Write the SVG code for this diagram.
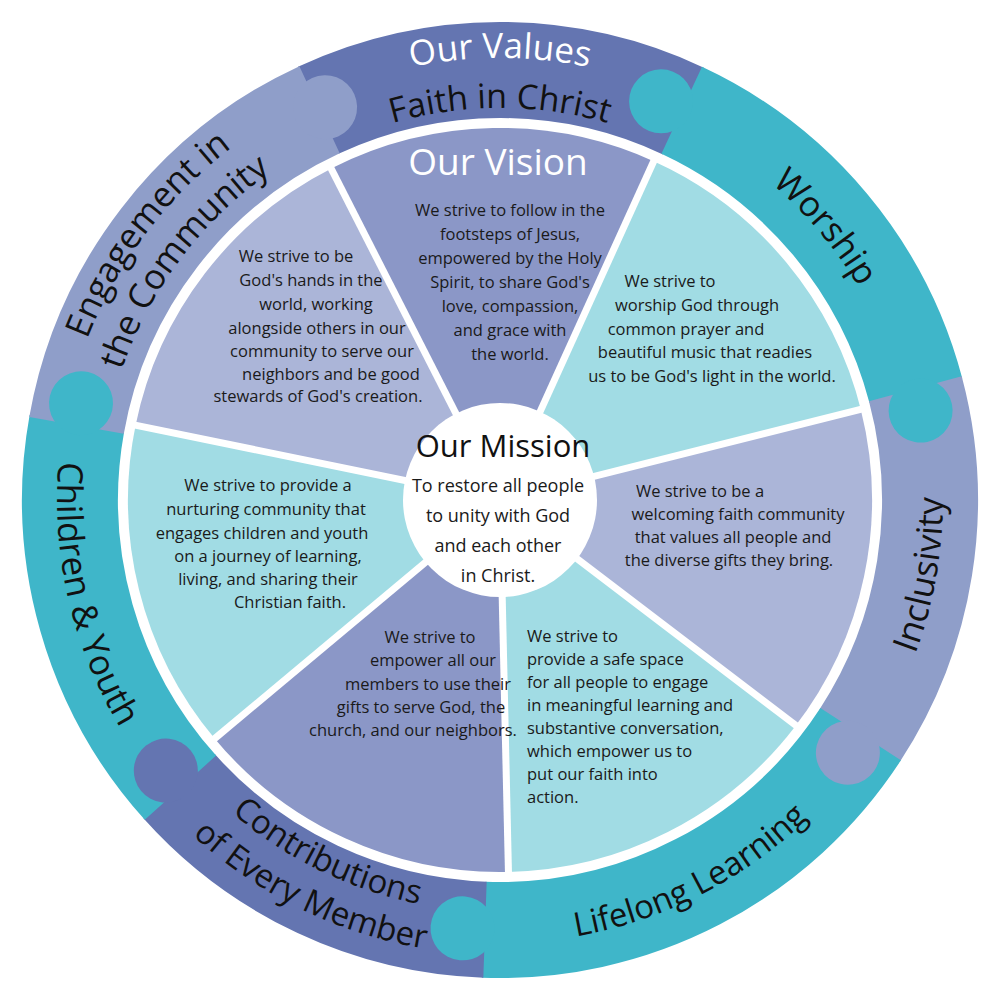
<svg xmlns="http://www.w3.org/2000/svg" xmlns:xlink="http://www.w3.org/1999/xlink" width="1000" height="1000" viewBox="0 0 1000 1000">
<style>
.ring{fill:none;stroke-width:96}
.wedge{fill:none;stroke-width:372}
.dark{stroke:#6475b1}.teal{stroke:#3fb6c9}.lp{stroke:#8f9ec9}
.k-dark{fill:#6475b1}.k-teal{fill:#3fb6c9}.k-lp{fill:#8f9ec9}
.w-med{stroke:#8b97c7}.w-teal{stroke:#a1dce4}.w-lp{stroke:#abb5d8}
.rt{font-family:"Open Sans","Noto Sans",sans-serif;font-size:35px;fill:#111}
.body{font-family:"Open Sans","Noto Sans",sans-serif;font-size:16.5px;fill:#1a1a1a;text-anchor:middle}
.sep{stroke:#fff;stroke-width:7}
</style>
<defs>
<path id="cw442" d="M117.2,279 A442 442 0 0 1 882.8,279"/>
<path id="cw392" d="M160.5,304 A392 392 0 0 1 839.5,304"/>
<path id="cw417" d="M138.9,291.5 A417 417 0 0 1 861.1,291.5"/>
<path id="cw443" d="M116.4,278.5 A443 443 0 0 1 883.6,278.5"/>
<path id="cw400" d="M153.6,300 A400 400 0 0 1 846.4,300"/>
<path id="ccw443" d="M116.4,721.5 A443 443 0 0 0 883.6,721.5"/>
<path id="ccw412" d="M143.2,706 A412 412 0 0 0 856.8,706"/>
<path id="ccw455" d="M106,727.5 A455 455 0 0 0 894,727.5"/>
</defs>
<rect width="1000" height="1000" fill="#fff"/>
<g id="ring">
<circle class="ring dark" cx="500" cy="500" r="430" stroke-dasharray="377 3000" transform="rotate(-115 500 500)"/>
<circle class="ring teal" cx="500" cy="500" r="430" stroke-dasharray="377 3000" transform="rotate(-65 500 500)"/>
<circle class="ring lp" cx="500" cy="500" r="430" stroke-dasharray="362 3000" transform="rotate(-15 500 500)"/>
<circle class="ring teal" cx="500" cy="500" r="430" stroke-dasharray="444 3000" transform="rotate(33 500 500)"/>
<circle class="ring dark" cx="500" cy="500" r="430" stroke-dasharray="347 3000" transform="rotate(92 500 500)"/>
<circle class="ring teal" cx="500" cy="500" r="430" stroke-dasharray="392 3000" transform="rotate(138 500 500)"/>
<circle class="ring lp" cx="500" cy="500" r="430" stroke-dasharray="414 3000" transform="rotate(190 500 500)"/>
<circle class="k-lp" cx="930" cy="500" r="32" transform="rotate(-114 500 500)"/>
<circle class="k-teal" cx="930" cy="500" r="32" transform="rotate(-68 500 500)"/>
<circle class="k-teal" cx="930" cy="500" r="32" transform="rotate(-12 500 500)"/>
<circle class="k-lp" cx="930" cy="500" r="32" transform="rotate(36 500 500)"/>
<circle class="k-teal" cx="930" cy="500" r="32" transform="rotate(95 500 500)"/>
<circle class="k-dark" cx="930" cy="500" r="32" transform="rotate(141 500 500)"/>
<circle class="k-teal" cx="930" cy="500" r="32" transform="rotate(193 500 500)"/>
</g>
<g id="ring-labels">
<text class="rt" style="fill:#fff"><textPath xlink:href="#cw442" href="#cw442" startOffset="50%" text-anchor="middle">Our Values</textPath></text>
<text class="rt" style="font-size:34px"><textPath xlink:href="#cw392" href="#cw392" startOffset="50%" text-anchor="middle">Faith in Christ</textPath></text>
<text class="rt" transform="rotate(50 500 500)"><textPath xlink:href="#cw417" href="#cw417" startOffset="50%" text-anchor="middle">Worship</textPath></text>
<text class="rt" transform="rotate(-53 500 500)"><textPath xlink:href="#cw443" href="#cw443" startOffset="50%" text-anchor="middle">Engagement in</textPath></text>
<text class="rt" transform="rotate(-53 500 500)"><textPath xlink:href="#cw400" href="#cw400" startOffset="50%" text-anchor="middle">the Community</textPath></text>
<text class="rt" transform="rotate(-80 500 500)"><textPath xlink:href="#ccw443" href="#ccw443" startOffset="50%" text-anchor="middle">Inclusivity</textPath></text>
<text class="rt" style="font-size:33px" transform="rotate(-27 500 500)"><textPath xlink:href="#ccw443" href="#ccw443" startOffset="50%" text-anchor="middle">Lifelong Learning</textPath></text>
<text class="rt" style="font-size:33px" transform="rotate(26 500 500)"><textPath xlink:href="#ccw412" href="#ccw412" startOffset="50%" text-anchor="middle">Contributions</textPath></text>
<text class="rt" style="font-size:33px" transform="rotate(26 500 500)"><textPath xlink:href="#ccw455" href="#ccw455" startOffset="50%" text-anchor="middle">of Every Member</textPath></text>
<text class="rt" transform="rotate(77 500 500)"><textPath xlink:href="#ccw443" href="#ccw443" startOffset="50%" text-anchor="middle">Children &amp; Youth</textPath></text>
</g>
<g id="wedges">
<circle class="wedge w-med" cx="500" cy="500" r="186" stroke-dasharray="168 2000" transform="rotate(-117 500 500)"/>
<circle class="wedge w-teal" cx="500" cy="500" r="186" stroke-dasharray="168 2000" transform="rotate(-65.6 500 500)"/>
<circle class="wedge w-lp" cx="500" cy="500" r="186" stroke-dasharray="168 2000" transform="rotate(-14.1 500 500)"/>
<circle class="wedge w-teal" cx="500" cy="500" r="186" stroke-dasharray="168 2000" transform="rotate(37.3 500 500)"/>
<circle class="wedge w-med" cx="500" cy="500" r="186" stroke-dasharray="168 2000" transform="rotate(88.7 500 500)"/>
<circle class="wedge w-teal" cx="500" cy="500" r="186" stroke-dasharray="168 2000" transform="rotate(140.1 500 500)"/>
<circle class="wedge w-lp" cx="500" cy="500" r="186" stroke-dasharray="168 2000" transform="rotate(191.6 500 500)"/>
</g>
<g id="connectors">
<line class="sep" x1="500" y1="500" x2="880" y2="500" transform="rotate(-117 500 500)"/>
<line class="sep" x1="500" y1="500" x2="880" y2="500" transform="rotate(-65.6 500 500)"/>
<line class="sep" x1="500" y1="500" x2="880" y2="500" transform="rotate(-14.1 500 500)"/>
<line class="sep" x1="500" y1="500" x2="880" y2="500" transform="rotate(37.3 500 500)"/>
<line class="sep" x1="500" y1="500" x2="880" y2="500" transform="rotate(88.7 500 500)"/>
<line class="sep" x1="500" y1="500" x2="880" y2="500" transform="rotate(140.1 500 500)"/>
<line class="sep" x1="500" y1="500" x2="880" y2="500" transform="rotate(191.6 500 500)"/>
</g>
<g id="vision">
<text x="498" y="175" style="font-family:'Open Sans','Noto Sans',sans-serif;font-size:37px;fill:#fff;text-anchor:middle">Our Vision</text>
<text class="body" x="510" y="216">We strive to follow in the</text>
<text class="body" x="510" y="240">footsteps of Jesus,</text>
<text class="body" x="510" y="264">empowered by the Holy</text>
<text class="body" x="510" y="288">Spirit, to share God's</text>
<text class="body" x="510" y="312">love, compassion,</text>
<text class="body" x="510" y="336">and grace with</text>
<text class="body" x="510" y="360">the world.</text>
</g>
<g id="worship">
<text class="body" x="670" y="287">We strive to</text>
<text class="body" x="697" y="311">worship God through</text>
<text class="body" x="686" y="335">common prayer and</text>
<text class="body" x="705" y="358">beautiful music that readies</text>
<text class="body" x="712" y="382">us to be God's light in the world.</text>
</g>
<g id="inclusivity">
<text class="body" x="700" y="497">We strive to be a</text>
<text class="body" x="738" y="520">welcoming faith community</text>
<text class="body" x="733" y="543">that values all people and</text>
<text class="body" x="729" y="566">the diverse gifts they bring.</text>
</g>
<g id="lifelong">
<text class="body" style="text-anchor:start" x="527" y="642">We strive to</text>
<text class="body" style="text-anchor:start" x="527" y="665">provide a safe space</text>
<text class="body" style="text-anchor:start" x="527" y="688">for all people to engage</text>
<text class="body" style="text-anchor:start" x="527" y="711">in meaningful learning and</text>
<text class="body" style="text-anchor:start" x="527" y="734">substantive conversation,</text>
<text class="body" style="text-anchor:start" x="527" y="757">which empower us to</text>
<text class="body" style="text-anchor:start" x="527" y="780">put our faith into</text>
<text class="body" style="text-anchor:start" x="527" y="803">action.</text>
</g>
<g id="contributions">
<text class="body" x="430" y="643">We strive to</text>
<text class="body" x="433" y="666">empower all our</text>
<text class="body" x="428" y="690">members to use their</text>
<text class="body" x="421" y="713">gifts to serve God, the</text>
<text class="body" x="413" y="736">church, and our neighbors.</text>
</g>
<g id="children">
<text class="body" x="268" y="491">We strive to provide a</text>
<text class="body" x="266" y="515">nurturing community that</text>
<text class="body" x="262" y="539">engages children and youth</text>
<text class="body" x="268" y="562">on a journey of learning,</text>
<text class="body" x="268" y="585">living, and sharing their</text>
<text class="body" x="290" y="608">Christian faith.</text>
</g>
<g id="engagement">
<text class="body" x="296" y="262">We strive to be</text>
<text class="body" x="311" y="286">God's hands in the</text>
<text class="body" x="316" y="310">world, working</text>
<text class="body" x="317" y="334">alongside others in our</text>
<text class="body" x="322" y="357">community to serve our</text>
<text class="body" x="331" y="380">neighbors and be good</text>
<text class="body" x="318" y="402">stewards of God's creation.</text>
</g>
<g id="mission">
<circle cx="500" cy="500" r="97" fill="#fff"/>
<text x="503" y="457" style="font-family:'Open Sans','Noto Sans',sans-serif;font-size:31px;fill:#111;text-anchor:middle">Our Mission</text>
<text class="body" style="font-size:18px" x="498" y="492">To restore all people</text>
<text class="body" style="font-size:18px" x="498" y="522">to unity with God</text>
<text class="body" style="font-size:18px" x="498" y="552">and each other</text>
<text class="body" style="font-size:18px" x="498" y="582">in Christ.</text>
</g>
</svg>
